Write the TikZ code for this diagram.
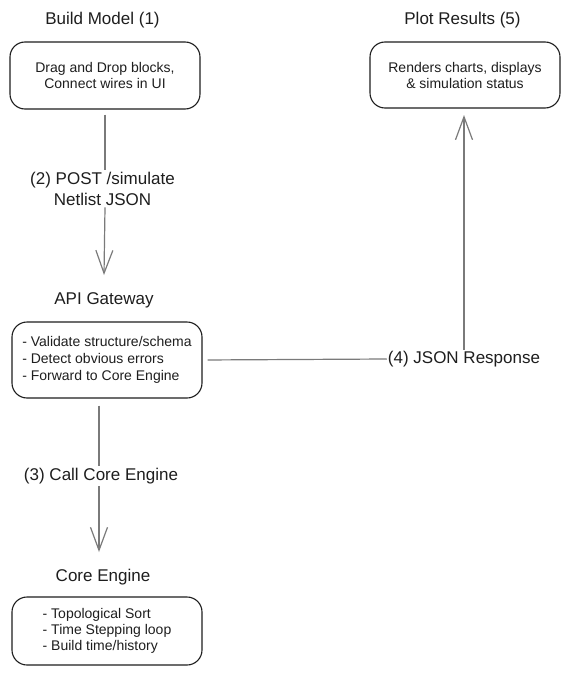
\documentclass[tikz,border=0pt]{standalone}
\usepackage{fontspec}
\setmainfont{Liberation Sans}
\usetikzlibrary{arrows.meta}
\definecolor{ink}{HTML}{1E1E1E}
\definecolor{wirec}{HTML}{7A7A7A}
\begin{document}
\begin{tikzpicture}[x=1pt,y=-1pt,
  box/.style={draw=ink, line width=1.1pt, rounded corners=15pt, inner sep=0pt, text=ink, minimum width=190pt},
  small/.style={font=\fontsize{14}{16}\selectfont},
  ttl/.style={inner sep=0pt, text=ink, font=\fontsize{17}{20}\selectfont},
  lbl/.style={inner sep=2pt, text=ink, font=\fontsize{17}{21}\selectfont, align=center},
  wire/.style={draw=wirec, line width=1.2pt},
  arr/.style={wire, -{Straight Barb[length=23pt,width=17pt,line width=1.2pt]}}]
\useasboundingbox (0,0) rectangle (569,674);
\fill[white] (0,0) rectangle (569,674);

% titles
\node[ttl] (t1) at (102.5,20) {Build Model (1)};
\node[ttl] (t4) at (462.5,20) {Plot Results (5)};
\node[ttl] (t2) at (104,300) {API Gateway};
\node[ttl] (t3) at (103,577) {Core Engine};

% boxes
\node[box, small, minimum height=67pt, align=center] (b1) at (105,75.5)
  {Drag and Drop blocks,\\Connect wires in UI};
\node[box, small, minimum height=66pt, align=center] (b4) at (465,75)
  {Renders charts, displays\\\& simulation status};
\node[box, font=\fontsize{14}{17}\selectfont, minimum height=76pt, align=left] (b2) at (107,360)
  {- Validate structure/schema\\- Detect obvious errors\\- Forward to Core Engine};
\node[box, small, minimum height=68pt, align=left] (b3) at (107,631)
  {- Topological Sort\\- Time Stepping loop\\- Build time/history};

% labels
\node[lbl] (l2) at (102.5,188.5) {(2) POST /simulate\\Netlist JSON};
\node[lbl] (l3) at (101,476) {(3) Call Core Engine};
\node[lbl, inner sep=1pt] (l4) at (464,359) {(4) JSON Response};

% arrow end points
\coordinate (e1) at (104,275);
\coordinate (e2) at (99,552);

% connectors
\draw[wire, shorten <=5pt] (b1.south) -- (b1.south |- l2.north);
\draw[arr] (l2.south -| b1.south) -- (e1);

\draw[wire, shorten <=7pt] ([xshift=-8pt]b2.south) -- ([xshift=-8pt]b2.south |- l3.north);
\draw[arr] (l3.south -| e2) -- (e2);

\draw[wire, shorten <=5pt] (b2.east) -- (l4.west);
\draw[arr, shorten >=6.5pt] (l4.north) -- (l4.north |- b4.south);
\end{tikzpicture}
\end{document}
